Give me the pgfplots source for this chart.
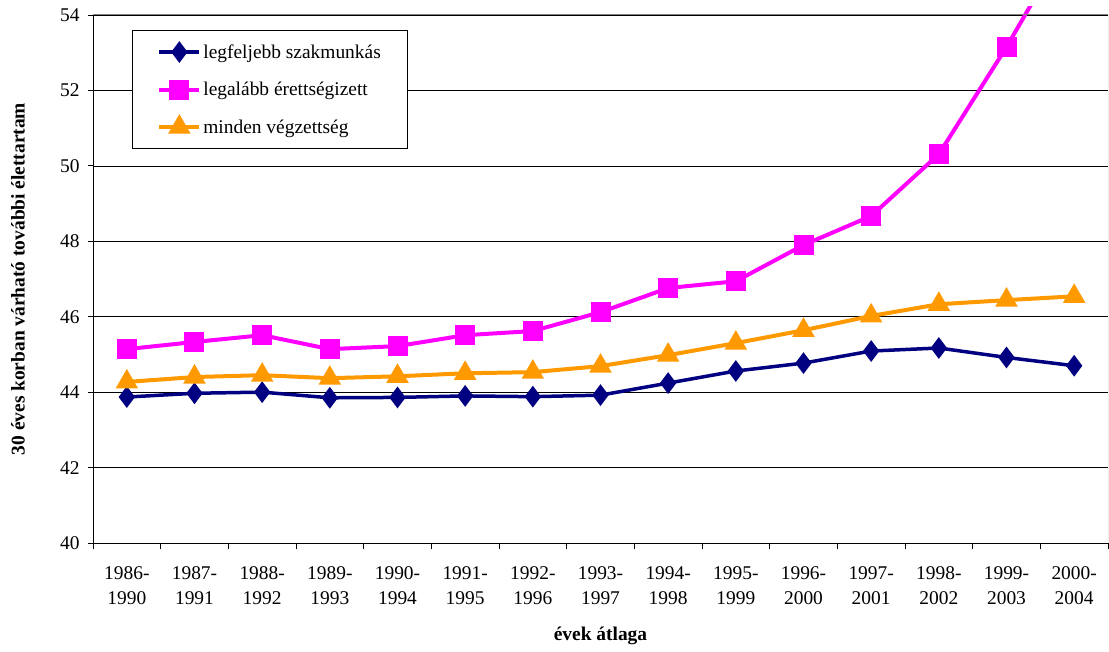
\documentclass[border=0pt]{standalone}
\usepackage{fontspec}
\setmainfont{Liberation Serif}
\usepackage{pgfplots}
\pgfplotsset{compat=1.18}
\definecolor{cblue}{RGB}{0,0,128}
\definecolor{cpink}{RGB}{255,0,255}
\definecolor{corange}{RGB}{255,153,0}
\begin{document}
\begin{tikzpicture}
\begin{axis}[
  scale only axis,
  width=1015bp, height=536.3bp,
  xmin=-0.5, xmax=14.5, ymin=40, ymax=54.22,
  axis lines*=left,
  axis line style={draw=none},
  font=\fontsize{19.5}{24.5}\selectfont,
  ytick={40,42,...,54},
  ymajorgrids, grid style={black, line width=0.6bp},
  /pgf/number format/assume math mode=true,
  tick align=outside,
  major tick length=5bp, minor tick length=6bp,
  tick style={black, line width=0.8bp},
  yticklabel style={xshift=-5bp},
  xtick={0,...,14},
  major x tick style={draw=none},
  minor xtick={-0.5,0.5,...,14.5},
  xticklabels={{1986-\\1990},{1987-\\1991},{1988-\\1992},{1989-\\1993},{1990-\\1994},{1991-\\1995},{1992-\\1996},{1993-\\1997},{1994-\\1998},{1995-\\1999},{1996-\\2000},{1997-\\2001},{1998-\\2002},{1999-\\2003},{2000-\\2004}},
  xticklabel style={align=center, yshift=-15bp, font=\fontsize{19.5}{25.5}\selectfont},
  xlabel={\bfseries évek átlaga},
  xlabel style={at={(axis cs:7,40)}, anchor=center, yshift=-93bp},
  ylabel={\bfseries 30 éves korban várható további élettartam},
  ylabel style={at={(axis cs:-0.5,47)}, anchor=center, yshift=75bp},
  legend style={at={(axis cs:0.076,53.6)}, anchor=north west, draw=black, line width=0.8bp, fill=white,
    font=\fontsize{19.5}{22}\selectfont, inner xsep=25bp, inner ysep=12bp, row sep=18.5bp,
    /tikz/every even column/.append style={column sep=4bp}},
  legend cell align=left,
  legend image code/.code={\draw[mark repeat=2,mark phase=2] plot coordinates {(0bp,0bp) (20bp,0bp) (40bp,0bp)};},
]
\addplot[cblue, line width=3.5bp, mark=diamond*, mark size=8bp, mark options={solid}] coordinates {
(0,43.87) (1,43.97) (2,44.00) (3,43.85) (4,43.86) (5,43.90) (6,43.88) (7,43.92) (8,44.24) (9,44.56) (10,44.77) (11,45.09) (12,45.17) (13,44.92) (14,44.70)};
\addlegendentry{legfeljebb szakmunkás}
\addplot[cpink, line width=4bp, mark=square*, mark size=8bp] coordinates {
(0,45.14) (1,45.33) (2,45.51) (3,45.14) (4,45.22) (5,45.51) (6,45.62) (7,46.12) (8,46.76) (9,46.94) (10,47.90) (11,48.67) (12,50.31) (13,53.15) (14,56.25)};
\addlegendentry{legalább érettségizett}
\addplot[corange, line width=4bp, mark=triangle*, mark size=9bp] coordinates {
(0,44.27) (1,44.40) (2,44.45) (3,44.37) (4,44.42) (5,44.50) (6,44.53) (7,44.69) (8,44.98) (9,45.30) (10,45.64) (11,46.02) (12,46.33) (13,46.44) (14,46.54)};
\addlegendentry{minden végzettség}
\coordinate (ll) at (axis cs:-0.5,40);
\draw[black, line width=0.8bp] (axis cs:-0.5,54) -- (axis cs:-0.5,40) -- (axis cs:14.5,40);
\draw[gray, line width=1bp] (axis cs:-0.5,54) -- (axis cs:14.5,54) -- (axis cs:14.5,40);
\end{axis}
\pgfresetboundingbox
\path[use as bounding box] ([shift={(-93bp,-109bp)}]ll) rectangle ([shift={(1016bp,543bp)}]ll);
\end{tikzpicture}
\end{document}
